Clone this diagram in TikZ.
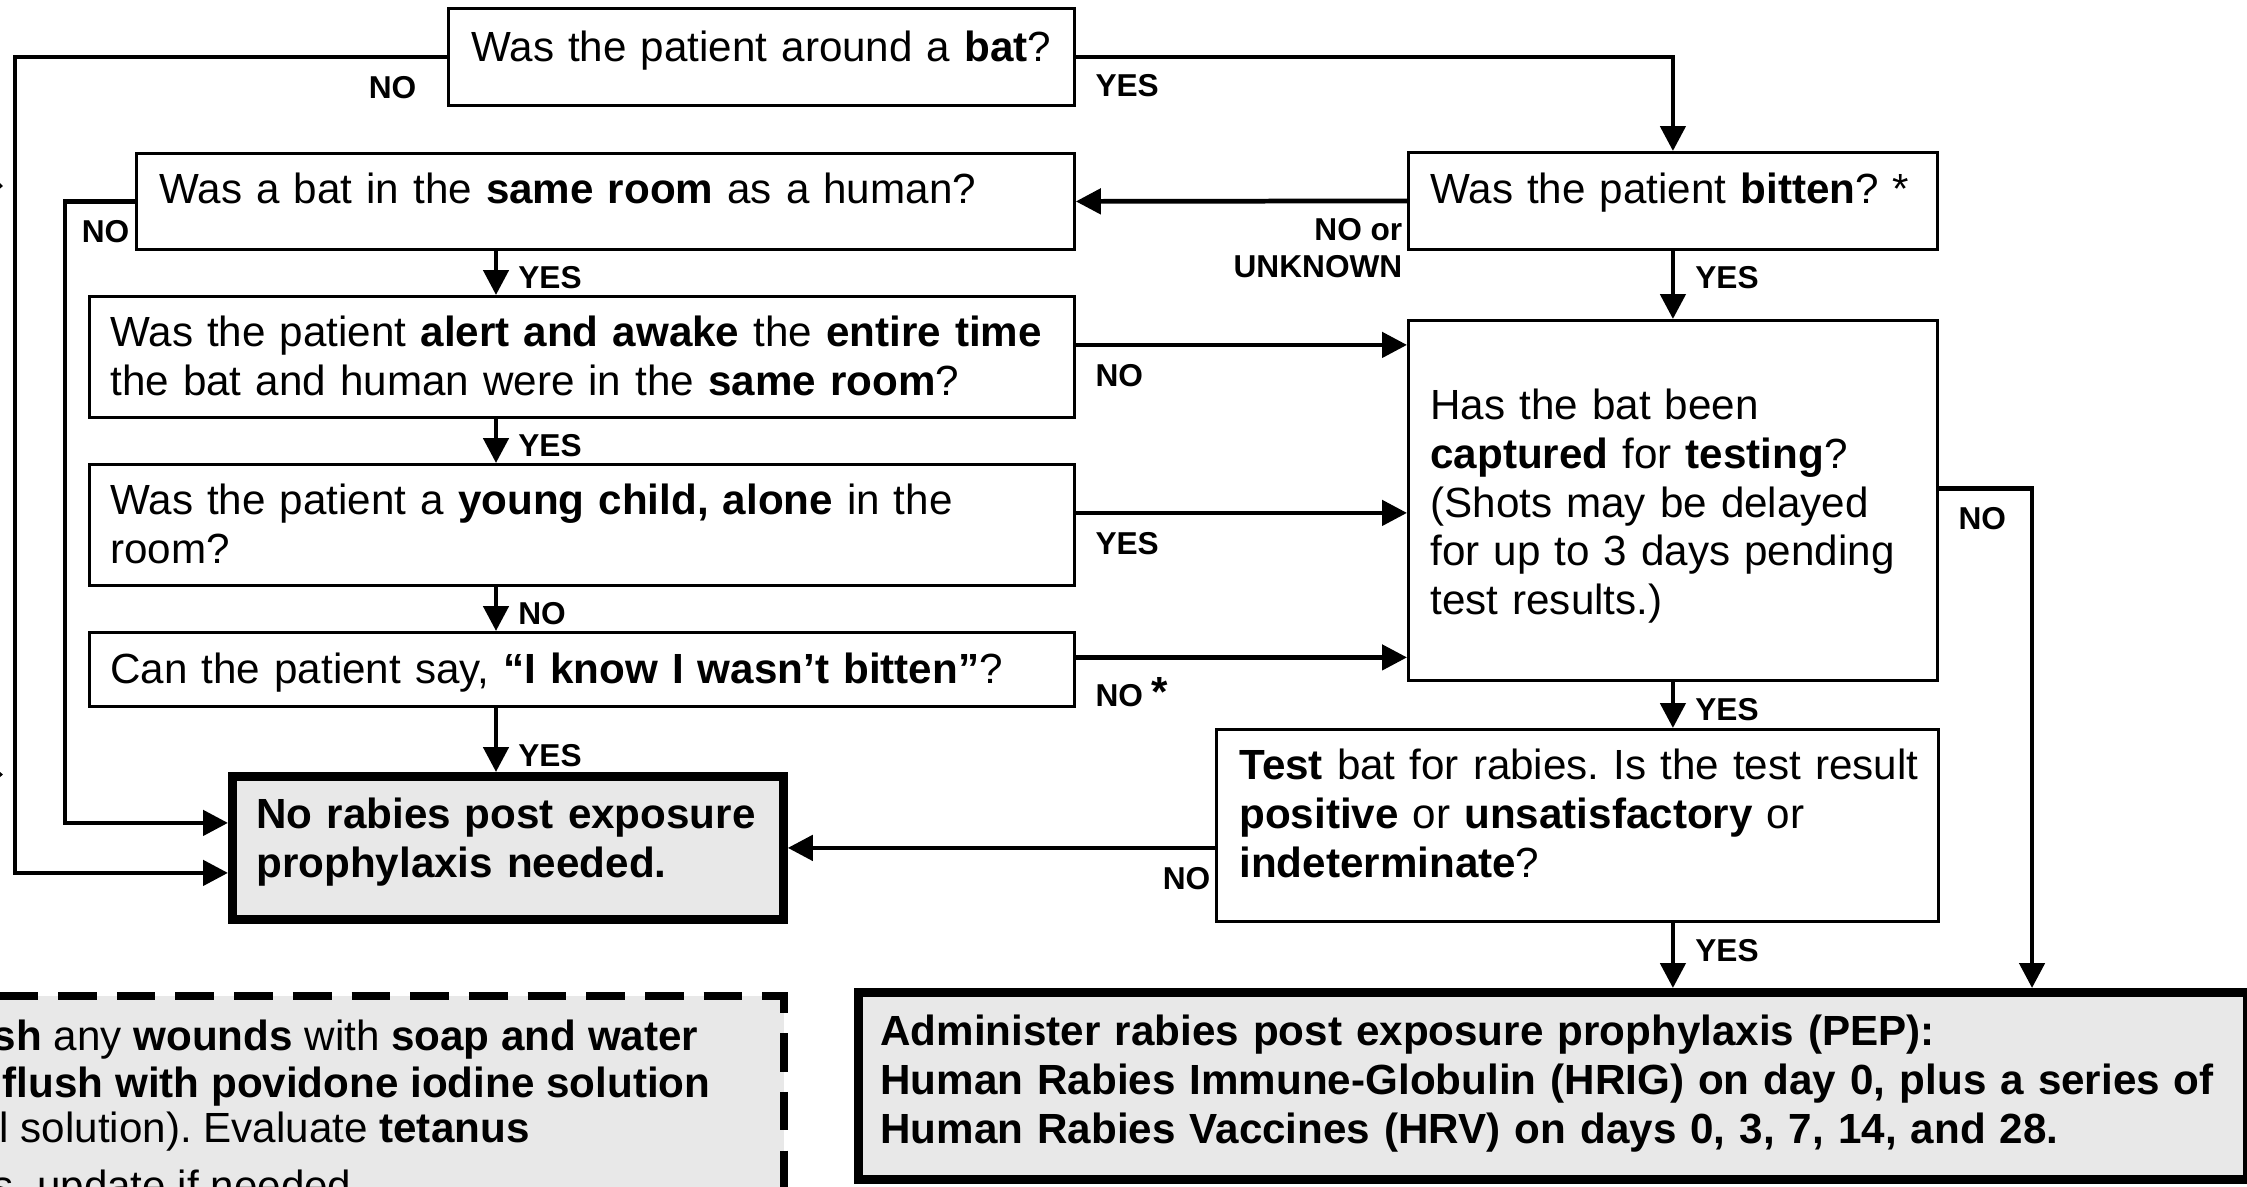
\documentclass[tikz,border=0pt]{standalone}
\usepackage{fontspec}
\setmainfont{Liberation Sans}
\usetikzlibrary{positioning,arrows.meta}
\definecolor{boxgray}{RGB}{232,232,232}
\frenchspacing
\hyphenpenalty=10000
\exhyphenpenalty=10000
\tikzset{
  qbox/.style={draw,line width=0.8pt,anchor=north west,align=left,inner ysep=0pt,
    font=\fontsize{12}{13.9}\selectfont},
  endbox/.style={qbox,line width=2.5pt,fill=boxgray,font=\fontsize{12}{13.9}\selectfont\bfseries},
  conn/.style={line width=1.35pt},
  arr/.style={conn,-{Triangle[length=2.5mm,width=2.5mm]}},
  lab/.style={inner sep=0pt,align=right,font=\fontsize{9}{10.5}\selectfont\bfseries},
  caretext/.style={inner sep=0pt,font=\fontsize{12}{13}\selectfont},
  careline/.style={line width=2.3pt,dash pattern=on 11pt off 5.7pt},
}

\begin{document}
\begin{tikzpicture}
\useasboundingbox (0,0) rectangle (22.47,-11.86);
\clip (0,0) rectangle (22.47,-11.86);

% wound care box, cut by the page
\fill[boxgray] (-1.18,-9.96) rectangle (7.84,-12.5);
\draw[careline] (-1.18,-9.96) -- (7.84,-9.96) -- (7.84,-12.5);
\node[caretext,anchor=base east] (careA) at (6.99,-10.50) {\textbf{sh} any \textbf{wounds} with \textbf{soap and water}};
\node[caretext,anchor=base east] (careB) at (7.11,-10.97) {\textbf{flush with povidone iodine solution}};
\node[caretext,anchor=base west] (careC) at (-0.01,-11.42) {l solution). Evaluate \textbf{tetanus}};
\node[caretext,anchor=base west] (careD) at (-0.08,-12.00) {s, update if needed.};

\fill (0,-1.83) -- (0.03,-1.86) -- (0,-1.885) -- cycle;
\fill (0,-7.72) -- (0.03,-7.745) -- (0,-7.77) -- cycle;

% questions
\node[qbox,text width=5.80cm,inner xsep=2.3mm,text height=5.3mm,text depth=4.4mm] (bat) at (4.47,-0.07) {Was the patient around a \textbf{bat}?};
\node[qbox,text width=8.92cm,inner xsep=2.3mm,text height=5.0mm,text depth=4.6mm] (room) at (1.35,-1.52) {Was a bat in the \textbf{same room} as a human?};
\node[qbox,text width=9.43cm,inner xsep=2.1mm,text height=5.0mm,text depth=7.1mm] (alert) at (0.88,-2.95) {\mbox{Was the patient \textbf{alert and awake} the \textbf{entire time}}\\the bat and human were in the \textbf{same room}?};
\node[qbox,text width=9.43cm,inner xsep=2.1mm,text height=5.0mm,text depth=7.1mm] (child) at (0.88,-4.63) {Was the patient a \textbf{young child, alone} in the\\room?};
\node[qbox,text width=9.43cm,inner xsep=2.1mm,text height=5.1mm,text depth=2.3mm] (say) at (0.88,-6.31) {Can the patient say, \textbf{“I know I wasn’t bitten”}?};
\node[endbox,text width=5.03cm,inner xsep=2.4mm,text height=5.2mm,text depth=9.1mm] (norabies) at (2.28,-7.72) {\mbox{No rabies post exposure}\\prophylaxis needed.};
\node[qbox,text width=4.85cm,inner xsep=2.2mm,text height=5.1mm,text depth=4.6mm] (bitten) at (14.07,-1.51) {\mbox{Was the patient \textbf{bitten}? *}};
\node[qbox,text width=4.85cm,inner xsep=2.2mm,text height=9.9mm,text depth=26.1mm] (capture) at (14.07,-3.19) {Has the bat been\\\textbf{captured} for \textbf{testing}?\\(Shots may be delayed\\\mbox{for up to 3 days pending}\\test results.)};
\node[qbox,text width=6.76cm,inner xsep=2.3mm,text height=5.0mm,text depth=14.2mm] (test) at (12.15,-7.28) {\mbox{\textbf{Test} bat for rabies. Is the test result}\\\textbf{positive} or \textbf{unsatisfactory} or\\\textbf{indeterminate}?};
\node[endbox,text width=13.45cm,inner xsep=2.2mm,text height=5.3mm,text depth=13.4mm] (pep) at (8.54,-9.88) {Administer rabies post exposure prophylaxis (PEP):\\\mbox{Human Rabies Immune-Globulin (HRIG) on day 0, plus a series of}\\Human Rabies Vaccines (HRV) on days 0, 3, 7, 14, and 28.};

\coordinate (railout) at (0.15,0);
\coordinate (railin) at (0.65,0);
\coordinate (spine) at (4.96,0);
\coordinate (railright) at (20.32,0);
\coordinate (inlow) at ([yshift=-2.5mm]norabies.west);
\coordinate (inhigh) at ([yshift=2.5mm]norabies.west);
\coordinate (a1) at ([yshift=1.2mm]alert.east);
\coordinate (a2) at ([yshift=1.2mm]child.east);
\coordinate (a3) at ([yshift=1.2mm]say.east);
\coordinate (c1) at ([yshift=1.2mm]capture.east);
\coordinate (t1) at (test.west |- norabies.east);

% left side
\draw[arr] (bat.west) -| (railout |- inlow) -- (inlow);
\node[lab,below left=1.9mm and 3mm of bat.west] (no0) {NO};
\draw[arr] (room.west) -| (railin |- inhigh) -- (inhigh);
\node[lab,below left=1.8mm and 0.5mm of room.west] (no1) {NO};
\draw[arr] (room.south -| spine) -- node[lab,right=2mm,pos=.6] (yes1) {YES} (alert.north -| spine);
\draw[arr] (alert.south -| spine) -- node[lab,right=2mm,pos=.6] (yes2) {YES} (child.north -| spine);
\draw[arr] (child.south -| spine) -- node[lab,right=2mm,pos=.6] (no2) {NO} (say.north -| spine);
\draw[arr] (say.south -| spine) -- node[lab,right=2mm,pos=.75] (yes3) {YES} (norabies.north -| spine);

% right side
\draw[arr] (bat.east) -| (bitten.north);
\node[lab,below right=1.7mm and 1.9mm of bat.east] (yes0) {YES};
\draw[arr] (bitten.west) -- (room.east);
\node[lab,below left=1.7mm and 0.4mm of bitten.west] (nounk) {NO or\\UNKNOWN};
\draw[arr] (bitten.south) -- node[lab,right=2mm,pos=.4] (yes4) {YES} (capture.north);
\draw[arr] (a1) -- (a1 -| capture.west);
\node[lab,below right=1.9mm and 1.9mm of a1] (no3) {NO};
\draw[arr] (a2) -- (a2 -| capture.west);
\node[lab,below right=1.9mm and 1.9mm of a2] (yes5) {YES};
\draw[arr] (a3) -- (a3 -| capture.west);
\node[lab,below right=1.9mm and 1.9mm of a3] (no4) {NO {\fontsize{12}{14}\selectfont *}};
\draw[arr] (c1) -| (railright |- pep.north);
\node[lab,below right=1.8mm and 1.9mm of c1] (no5) {NO};
\draw[arr] (capture.south) -- node[lab,right=2mm,pos=.6] (yes6) {YES} (capture.south |- test.north);
\draw[arr] (test.south -| capture.south) -- node[lab,right=2mm,pos=.43] (yes7) {YES} (capture.south |- pep.north);
\draw[arr] (t1) -- (norabies.east);
\node[lab,below left=1.9mm and 0.4mm of t1] (no6) {NO};
\end{tikzpicture}
\end{document}
